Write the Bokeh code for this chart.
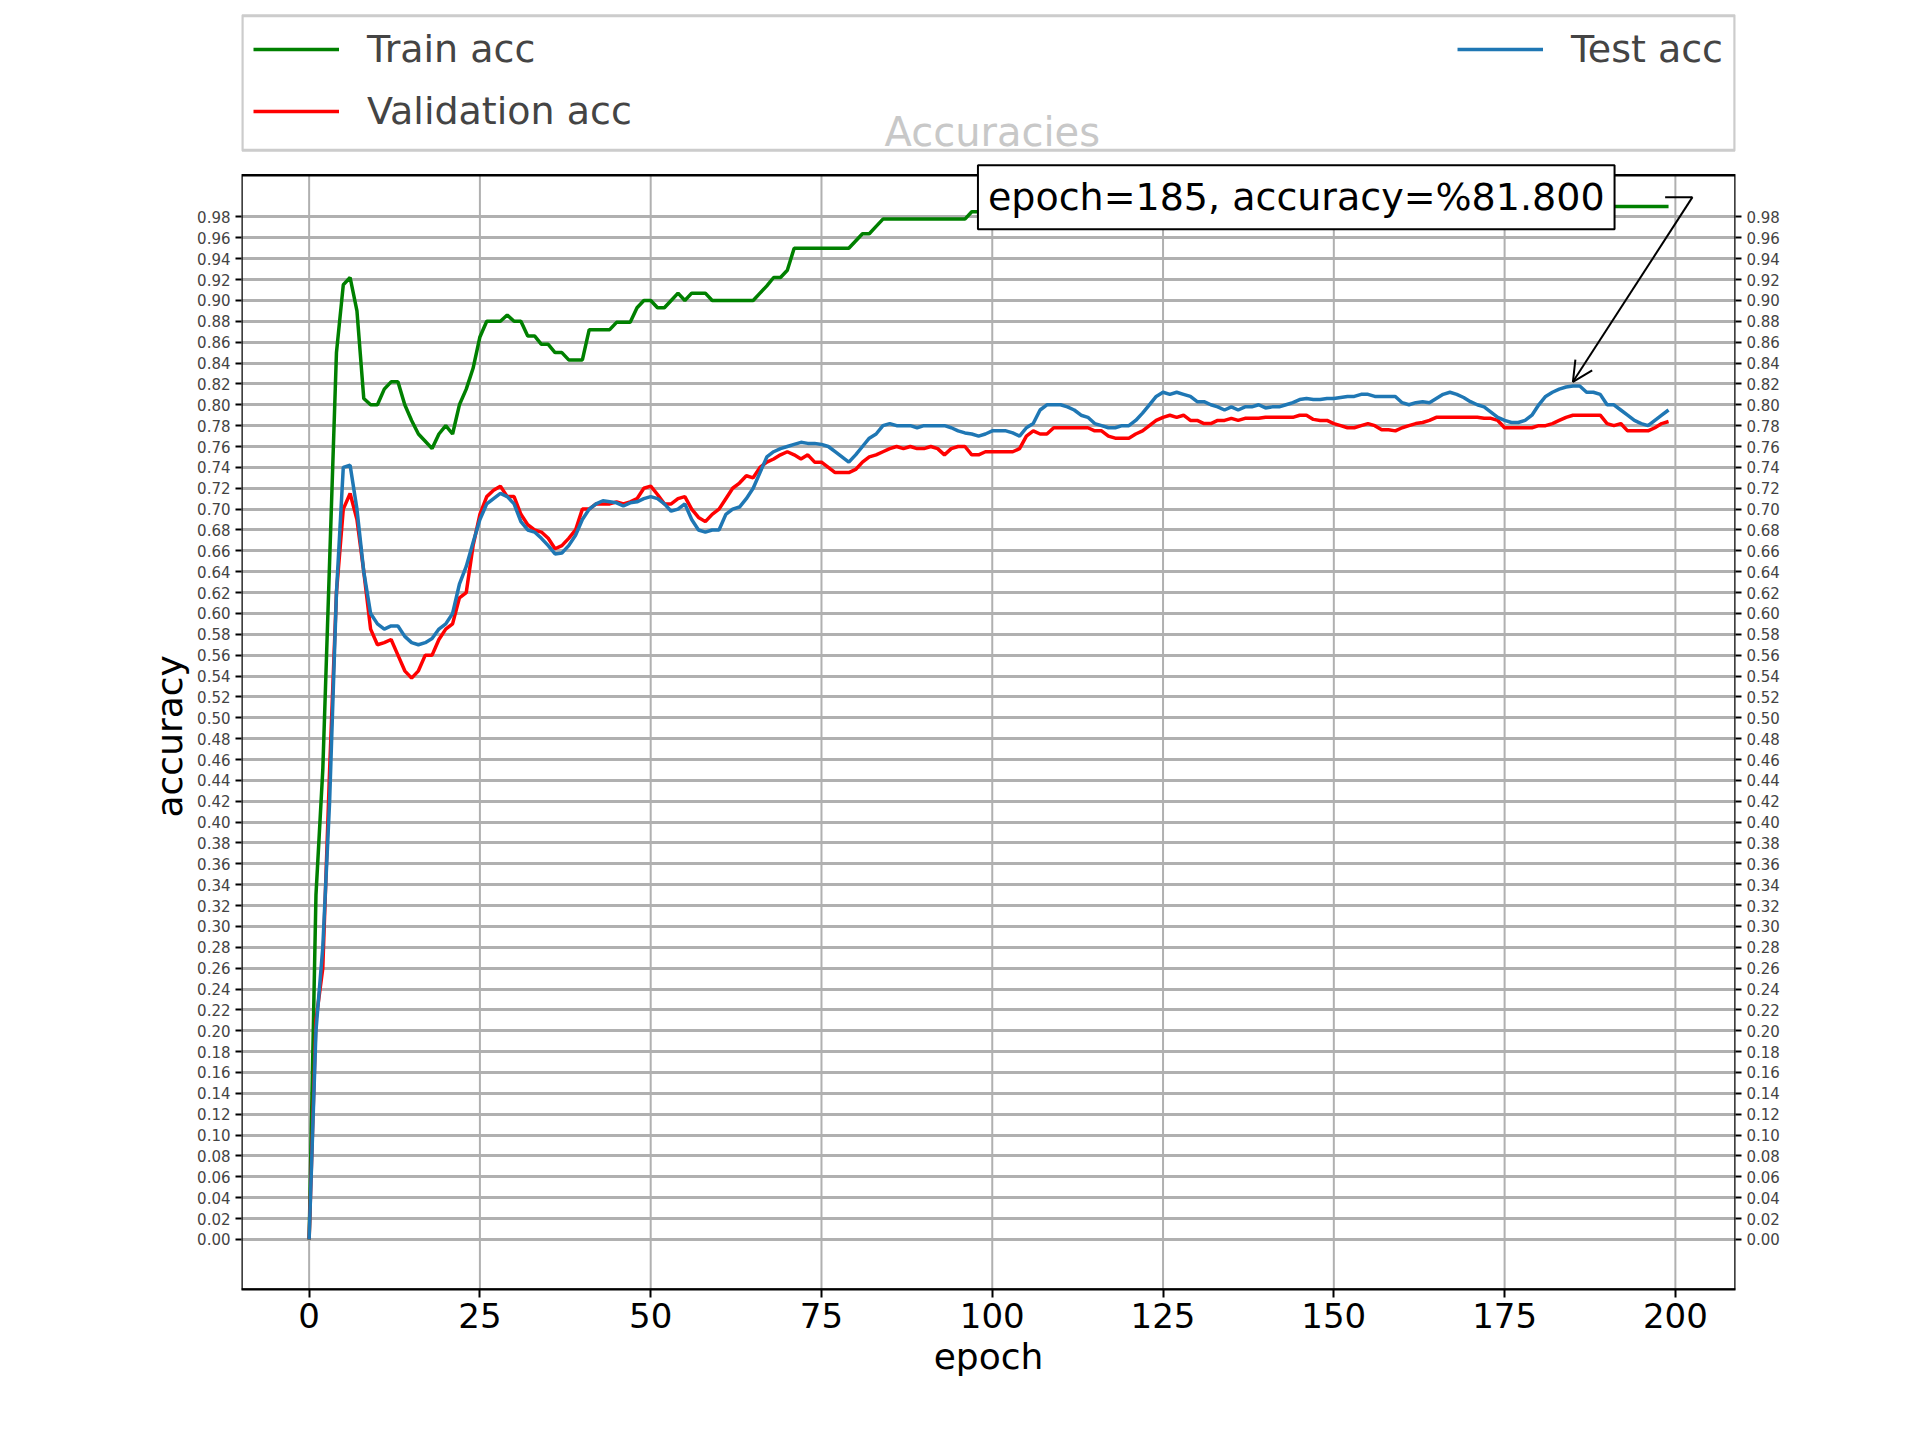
from bokeh.plotting import figure
from bokeh.models import (Legend, LegendItem, LinearAxis, FixedTicker, Range1d,
                          Label, Arrow, OpenHead, Title, CustomJSTickFormatter)
from bokeh.embed import file_html
from bokeh.resources import INLINE

train_acc = [
    0.0, 0.33, 0.45, 0.65, 0.85, 0.915, 0.922, 0.89, 0.806, 0.80,
    0.80, 0.815, 0.822, 0.822, 0.80, 0.785, 0.772, 0.765, 0.758, 0.772,
    0.78, 0.772, 0.80, 0.815, 0.835, 0.865, 0.88, 0.88, 0.88, 0.886,
    0.88, 0.88, 0.866, 0.866, 0.858, 0.858, 0.85, 0.85, 0.843, 0.843,
    0.843, 0.872, 0.872, 0.872, 0.872, 0.879, 0.879, 0.879, 0.893, 0.90,
    0.90, 0.893, 0.893, 0.90, 0.907, 0.90, 0.907, 0.907, 0.907, 0.90,
    0.90, 0.90, 0.90, 0.90, 0.90, 0.90, 0.907, 0.914, 0.922, 0.922,
    0.929, 0.95, 0.95, 0.95, 0.95, 0.95, 0.95, 0.95, 0.95, 0.95,
    0.957, 0.964, 0.964, 0.971, 0.978, 0.978, 0.978, 0.978, 0.978, 0.978,
    0.978, 0.978, 0.978, 0.978, 0.978, 0.978, 0.978, 0.985, 0.985, 0.985,
    0.985, 0.985, 0.985, 0.985, 0.985, 0.985, 0.985, 0.985, 0.985, 0.985,
    0.985, 0.978, 0.978, 0.978, 0.978, 0.978, 0.978, 0.978, 0.978, 0.985,
    0.985, 0.985, 0.99, 0.99, 0.99, 0.99, 0.99, 0.99, 0.99, 0.99,
    0.99, 0.99, 0.99, 0.985, 0.985, 0.99, 0.99, 0.99, 0.99, 0.99,
    0.99, 0.99, 0.99, 0.99, 0.99, 0.99, 0.99, 0.99, 0.99, 0.99,
    0.99, 0.99, 0.99, 0.99, 0.99, 0.99, 0.99, 0.99, 0.99, 0.99,
    0.99, 0.99, 0.99, 0.99, 0.99, 0.99, 0.99, 0.99, 0.99, 0.99,
    0.99, 0.99, 0.99, 0.99, 0.99, 0.99, 0.99, 0.99, 0.99, 0.99,
    0.99, 0.99, 0.99, 0.99, 0.99, 0.99, 0.99, 0.99, 0.99, 0.99,
    0.99, 0.99, 0.99, 0.99, 0.99, 0.99, 0.99, 0.99, 0.99, 0.99,
]

val_acc = [
    0.0, 0.21, 0.26, 0.45, 0.62, 0.70, 0.715, 0.69, 0.64, 0.585,
    0.57, 0.572, 0.575, 0.56, 0.545, 0.538, 0.545, 0.56, 0.56, 0.575,
    0.585, 0.59, 0.615, 0.62, 0.665, 0.695, 0.712, 0.718, 0.722, 0.712,
    0.712, 0.695, 0.685, 0.68, 0.678, 0.672, 0.662, 0.665, 0.672, 0.68,
    0.70, 0.70, 0.705, 0.705, 0.705, 0.707, 0.705, 0.707, 0.71, 0.72,
    0.722, 0.714, 0.705, 0.705, 0.71, 0.712, 0.70, 0.692, 0.688, 0.695,
    0.70, 0.71, 0.72, 0.725, 0.732, 0.73, 0.74, 0.745, 0.748, 0.752,
    0.755, 0.752, 0.748, 0.752, 0.745, 0.745, 0.74, 0.735, 0.735, 0.735,
    0.738, 0.745, 0.75, 0.752, 0.755, 0.758, 0.76, 0.758, 0.76, 0.758,
    0.758, 0.76, 0.758, 0.752, 0.758, 0.76, 0.76, 0.752, 0.752, 0.755,
    0.755, 0.755, 0.755, 0.755, 0.758, 0.77, 0.775, 0.772, 0.772, 0.778,
    0.778, 0.778, 0.778, 0.778, 0.778, 0.775, 0.775, 0.77, 0.768, 0.768,
    0.768, 0.772, 0.775, 0.78, 0.785, 0.788, 0.79, 0.788, 0.79, 0.785,
    0.785, 0.782, 0.782, 0.785, 0.785, 0.787, 0.785, 0.787, 0.787, 0.787,
    0.788, 0.788, 0.788, 0.788, 0.788, 0.79, 0.79, 0.786, 0.785, 0.785,
    0.782, 0.78, 0.778, 0.778, 0.78, 0.782, 0.78, 0.776, 0.776, 0.775,
    0.778, 0.78, 0.782, 0.783, 0.785, 0.788, 0.788, 0.788, 0.788, 0.788,
    0.788, 0.788, 0.787, 0.787, 0.785, 0.778, 0.778, 0.778, 0.778, 0.778,
    0.78, 0.78, 0.782, 0.785, 0.788, 0.79, 0.79, 0.79, 0.79, 0.79,
    0.782, 0.78, 0.782, 0.775, 0.775, 0.775, 0.775, 0.778, 0.782, 0.784,
]

test_acc = [
    0.0, 0.20, 0.28, 0.42, 0.62, 0.74, 0.742, 0.70, 0.64, 0.60,
    0.59, 0.585, 0.588, 0.588, 0.578, 0.572, 0.57, 0.572, 0.576, 0.585,
    0.59, 0.60, 0.628, 0.645, 0.668, 0.69, 0.705, 0.71, 0.715, 0.712,
    0.705, 0.688, 0.68, 0.678, 0.672, 0.665, 0.657, 0.658, 0.665, 0.675,
    0.69, 0.70, 0.705, 0.708, 0.707, 0.706, 0.703, 0.706, 0.707, 0.71,
    0.712, 0.71, 0.705, 0.698, 0.70, 0.705, 0.69, 0.68, 0.678, 0.68,
    0.68, 0.695, 0.70, 0.702, 0.71, 0.72, 0.735, 0.75, 0.755, 0.758,
    0.76, 0.762, 0.764, 0.763, 0.763, 0.762, 0.76, 0.755, 0.75, 0.745,
    0.752, 0.76, 0.768, 0.772, 0.78, 0.782, 0.78, 0.78, 0.78, 0.778,
    0.78, 0.78, 0.78, 0.78, 0.778, 0.775, 0.773, 0.772, 0.77, 0.772,
    0.775, 0.775, 0.775, 0.773, 0.77, 0.778, 0.782, 0.795, 0.80, 0.80,
    0.80, 0.798, 0.795, 0.79, 0.788, 0.782, 0.78, 0.778, 0.778, 0.78,
    0.78, 0.785, 0.792, 0.80, 0.808, 0.812, 0.81, 0.812, 0.81, 0.808,
    0.803, 0.803, 0.80, 0.798, 0.795, 0.798, 0.795, 0.798, 0.798, 0.80,
    0.797, 0.798, 0.798, 0.80, 0.802, 0.805, 0.806, 0.805, 0.805, 0.806,
    0.806, 0.807, 0.808, 0.808, 0.81, 0.81, 0.808, 0.808, 0.808, 0.808,
    0.802, 0.80, 0.802, 0.803, 0.802, 0.806, 0.81, 0.812, 0.81, 0.807,
    0.803, 0.80, 0.798, 0.793, 0.788, 0.785, 0.783, 0.783, 0.785, 0.79,
    0.80, 0.808, 0.812, 0.815, 0.817, 0.818, 0.818, 0.812, 0.812, 0.81,
    0.80, 0.80, 0.795, 0.79, 0.785, 0.782, 0.78, 0.785, 0.79, 0.795,
]

epochs = list(range(len(train_acc)))
best_epoch = 185
best_acc = 0.818
y_ticks = [round(0.02 * i, 2) for i in range(50)]
x_ticks = [0, 25, 50, 75, 100, 125, 150, 175, 200]

FONT = "DejaVu Sans"
X0, X1 = -9.9, 208.8      # axes box in data units
Y0, Y1 = -0.048, 1.02
TOP = 1.176               # extra room above the axes for legend and title

p = figure(width=1900, height=1420, output_backend="svg", toolbar_location=None,
           x_range=Range1d(X0, X1), y_range=Range1d(Y0, TOP),
           min_border_left=241, min_border_right=165, min_border_top=12,
           min_border_bottom=131)
p.outline_line_color = None
p.xgrid.visible = False
p.ygrid.ticker = FixedTicker(ticks=y_ticks)
p.ygrid.grid_line_color = "#b0b0b0"
p.ygrid.grid_line_width = 3

# vertical grid lines limited to the axes box
p.segment(x0=x_ticks, y0=[Y0] * len(x_ticks), x1=x_ticks, y1=[Y1] * len(x_ticks),
          line_color="#b0b0b0", line_width=2)

p.xaxis.ticker = FixedTicker(ticks=x_ticks)
p.yaxis.ticker = FixedTicker(ticks=y_ticks)
right = LinearAxis(ticker=FixedTicker(ticks=y_ticks))
p.add_layout(right, "right")

fmt = CustomJSTickFormatter(code="return tick.toFixed(2);")
for ax in p.yaxis:
    ax.formatter = fmt
    ax.major_label_text_font = FONT
    ax.major_label_text_font_size = "15px"
    ax.minor_tick_line_color = None
    ax.axis_line_color = None
    ax.major_tick_out = 6
    ax.major_tick_in = 0
    ax.major_tick_line_width = 2

p.xaxis.major_label_text_font = FONT
p.xaxis.major_label_text_font_size = "34px"
p.xaxis.major_label_text_color = "black"
p.xaxis.minor_tick_line_color = None
p.xaxis.axis_line_color = "black"
p.xaxis.axis_line_width = 2
p.xaxis.major_tick_out = 8
p.xaxis.major_tick_in = 0
p.xaxis.major_tick_line_width = 2
p.xaxis.axis_label = "epoch"
p.xaxis.axis_label_text_font = FONT
p.xaxis.axis_label_text_font_style = "normal"
p.xaxis.axis_label_text_font_size = "36px"
p.xaxis.axis_label_text_color = "black"

p.add_layout(Title(text="accuracy", align="left", offset=472, text_font=FONT,
                   text_font_size="36px", text_font_style="normal",
                   text_color="black"), "left")

# axes box
p.quad(left=[X0], right=[X1], bottom=[Y0], top=[Y1], fill_color=None,
       line_color="black", line_width=2.5)

r_train = p.line(epochs, train_acc, line_color="green", line_width=3.5)
r_val = p.line(epochs, val_acc, line_color="red", line_width=3.5)
r_test = p.line(epochs, test_acc, line_color="#1f77b4", line_width=3.5)

# legend frame
p.quad(left=[X0 + 0.1], right=[X1 - 0.1], bottom=[1.044], top=[TOP - 0.003],
       fill_color="white", line_color="#cccccc", line_width=3)

leg_style = dict(label_text_font=FONT, label_text_font_size="38px",
                 glyph_width=86, glyph_height=50, label_height=50,
                 spacing=12, padding=4, margin=12, label_standoff=28,
                 border_line_color=None, background_fill_alpha=0)
leg_left = Legend(items=[LegendItem(label="Train acc", renderers=[r_train]),
                         LegendItem(label="Validation acc", renderers=[r_val])],
                  location="top_left", **leg_style)
leg_right = Legend(items=[LegendItem(label="Test acc", renderers=[r_test])],
                   location="top_right", **leg_style)
p.add_layout(leg_left, "center")
p.add_layout(leg_right, "center")

p.add_layout(Label(x=100, y=1.061, text="Accuracies", text_align="center",
                   text_baseline="middle", text_font=FONT, text_font_size="40px",
                   text_color="#c8c8c8"))

p.add_layout(Label(x=144.5, y=0.999,
                   text="epoch=%d, accuracy=%%%.3f" % (best_epoch, best_acc * 100),
                   text_align="center", text_baseline="middle", text_font=FONT,
                   text_font_size="38px", text_color="black",
                   background_fill_color="white", border_line_color="black",
                   border_line_width=2, padding=10))
p.segment(x0=[best_epoch + 13.5], y0=[0.999], x1=[best_epoch + 17.5], y1=[0.999],
          line_color="black", line_width=2)
p.add_layout(Arrow(end=OpenHead(size=20, line_width=2), x_start=best_epoch + 17.5,
                   y_start=0.999, x_end=best_epoch, y_end=best_acc + 0.004, line_width=2))

open("out.html", "w").write(file_html(p, INLINE))
